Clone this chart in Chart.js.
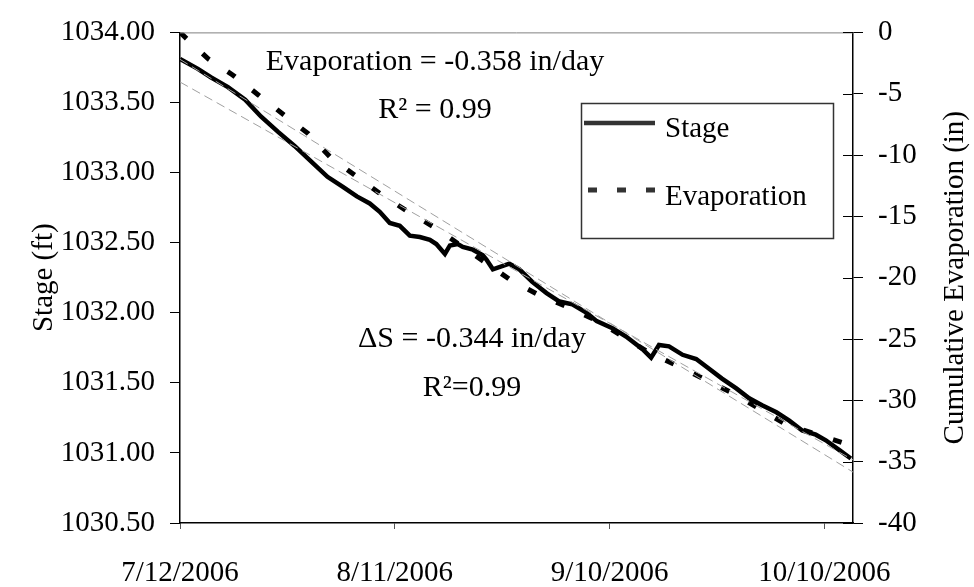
<!DOCTYPE html>
<html>
<head>
<meta charset="utf-8">
<script src="https://cdn.jsdelivr.net/npm/chart.js@4.4.1/dist/chart.umd.min.js"></script>
<style>
  html, body { margin: 0; padding: 0; background: #fff; }
</style>
</head>
<body>
<canvas id="myChart" width="974" height="587"></canvas>
<script>
// days counted from 7/12/2006
var stageDays = [0, 2.5, 4.3, 6.7, 9.1, 11.3, 13.7, 16.0, 18.3, 20.6, 22.7, 24.7, 26.5, 27.9, 29.3, 30.7, 32.1, 33.5, 34.9, 35.8,
    37.0, 37.7, 38.8, 39.5, 40.9, 42.3, 42.8, 43.7, 46.0, 47.4, 49.2, 51.2, 53.0, 54.8, 56.8, 58.2, 60.4, 62.3, 64.6, 65.8,
    66.9, 68.3, 70.2, 72.1, 73.9, 75.7, 77.7, 79.5, 81.3, 83.3, 85.1, 86.9, 88.8, 90.2, 92.1, 93.7];
var stageValues = [1033.81, 1033.74, 1033.68, 1033.61, 1033.52, 1033.40, 1033.29, 1033.19, 1033.08, 1032.97, 1032.90, 1032.83, 1032.78, 1032.72, 1032.64, 1032.62, 1032.55, 1032.54, 1032.52, 1032.49,
    1032.42, 1032.48, 1032.49, 1032.47, 1032.45, 1032.41, 1032.38, 1032.31, 1032.35, 1032.31, 1032.22, 1032.14, 1032.08, 1032.06, 1032.00, 1031.94, 1031.89, 1031.83, 1031.74, 1031.68,
    1031.77, 1031.76, 1031.70, 1031.67, 1031.60, 1031.53, 1031.46, 1031.39, 1031.34, 1031.29, 1031.23, 1031.16, 1031.13, 1031.09, 1031.02, 1030.96];

var evapDays = [0, 3.9, 7.4, 10.9, 14.4, 17.9, 21.1, 24.7, 28.2, 31.8, 35.7, 46.3, 50.2, 54.1, 58.2, 65.3, 69.6, 73.2, 77.3, 84.7, 93.6];
var evapValues = [0, -2.14, -3.49, -5.08, -6.67, -8.25, -10.24, -11.75, -13.25, -14.60, -15.95, -20.24, -21.43, -22.38, -23.49, -26.03, -27.22, -28.25, -29.44, -31.98, -33.65];

// linear trend lines (end points)
var trendDays = [0, 94];
var stageTrend = [1033.646, 1030.95];
var evapTrend = [-2.2, -35.85];

var FONT = "'Liberation Serif', 'Times New Roman', serif";

function toPoints(xs, ys) {
    return xs.map(function(x, i) { return { x: x, y: ys[i] }; });
}

function dayLabel(v) {
    var d = new Date(2006, 6, 12 + v);
    return (d.getMonth() + 1) + '/' + d.getDate() + '/' + d.getFullYear();
}

var extras = {
    id: 'extras',
    afterDraw: function(chart) {
        var ctx = chart.ctx;
        var a = chart.chartArea;
        var y1 = chart.scales.y1;
        ctx.save();

        // top border of plot area
        ctx.strokeStyle = '#808080';
        ctx.lineWidth = 1;
        ctx.beginPath();
        ctx.moveTo(a.left, a.top + 0.5);
        ctx.lineTo(a.right, a.top + 0.5);
        ctx.stroke();

        // right axis ticks cross the axis line
        ctx.strokeStyle = '#000';
        ctx.beginPath();
        y1.ticks.forEach(function(t) {
            var py = Math.round(y1.getPixelForValue(t.value)) + 0.5;
            ctx.moveTo(a.right - 10, py);
            ctx.lineTo(a.right, py);
        });
        ctx.stroke();

        ctx.fillStyle = '#000';
        ctx.textAlign = 'center';
        ctx.textBaseline = 'alphabetic';
        ctx.font = '30px ' + FONT;
        ctx.fillText('Evaporation = -0.358 in/day', 435, 70);
        ctx.fillText('R\u00B2 = 0.99', 435, 118);
        ctx.fillText('\u0394S = -0.344 in/day', 472, 347);
        ctx.fillText('R\u00B2=0.99', 472, 396);

        // legend
        ctx.strokeStyle = '#333';
        ctx.lineWidth = 1.5;
        ctx.strokeRect(581.5, 103.5, 252, 135);
        ctx.lineWidth = 4.5;
        ctx.beginPath();
        ctx.moveTo(584, 123);
        ctx.lineTo(655, 123);
        ctx.stroke();
        ctx.lineWidth = 5;
        ctx.setLineDash([9, 20]);
        ctx.beginPath();
        ctx.moveTo(588, 190);
        ctx.lineTo(655, 190);
        ctx.stroke();
        ctx.setLineDash([]);
        ctx.textAlign = 'left';
        ctx.font = '29px ' + FONT;
        ctx.fillText('Stage', 665, 137);
        ctx.fillText('Evaporation', 665, 205);

        // axis titles
        var midY = (a.top + a.bottom) / 2;
        ctx.font = '29px ' + FONT;
        ctx.textAlign = 'center';
        ctx.save();
        ctx.translate(52, midY);
        ctx.rotate(-Math.PI / 2);
        ctx.fillText('Stage (ft)', 0, 0);
        ctx.restore();
        ctx.save();
        ctx.translate(963, midY);
        ctx.rotate(-Math.PI / 2);
        ctx.fillText('Cumulative Evaporation (in)', 0, 0);
        ctx.restore();

        ctx.restore();
    }
};

var tickFont = { family: FONT, size: 29 };

var myChart = new Chart(document.getElementById('myChart').getContext('2d'), {
    type: 'line',
    data: {
        datasets: [{
            label: 'Stage trend',
            data: toPoints(trendDays, stageTrend),
            yAxisID: 'y',
            borderColor: '#a0a0a0',
            borderWidth: 1,
            borderDash: [9, 5],
            pointRadius: 0,
            order: 0
        }, {
            label: 'Evaporation trend',
            data: toPoints(trendDays, evapTrend),
            yAxisID: 'y1',
            borderColor: '#a0a0a0',
            borderWidth: 1,
            borderDash: [9, 5],
            pointRadius: 0,
            order: 1
        }, {
            label: 'Stage',
            data: toPoints(stageDays, stageValues),
            yAxisID: 'y',
            borderColor: '#000',
            borderWidth: 4.5,
            pointRadius: 0,
            order: 2
        }, {
            label: 'Evaporation',
            data: toPoints(evapDays, evapValues),
            yAxisID: 'y1',
            borderColor: '#000',
            borderWidth: 5,
            borderDash: [9, 22],
            pointRadius: 0,
            order: 3
        }]
    },
    options: {
        responsive: false,
        animation: false,
        layout: { padding: { top: 19, left: 0, right: 0, bottom: 0 } },
        plugins: {
            legend: { display: false },
            tooltip: { enabled: false }
        },
        scales: {
            x: {
                type: 'linear',
                min: 0,
                max: 94,
                border: { color: '#000', width: 1.5 },
                grid: { drawOnChartArea: false, tickLength: 6, color: '#555' },
                ticks: {
                    stepSize: 30,
                    includeBounds: false,
                    autoSkip: false,
                    maxRotation: 0,
                    padding: 27,
                    color: '#000',
                    font: tickFont,
                    callback: function(v) { return dayLabel(v); }
                },
                afterFit: function(s) { s.height = 64; }
            },
            y: {
                position: 'left',
                min: 1030.5,
                max: 1034,
                border: { color: '#000', width: 1.5 },
                grid: { drawOnChartArea: false, tickLength: 10, color: '#000' },
                ticks: {
                    stepSize: 0.5,
                    padding: 15,
                    color: '#000',
                    font: tickFont,
                    callback: function(v) { return v.toFixed(2); }
                },
                afterFit: function(s) { s.width = 180; }
            },
            y1: {
                position: 'right',
                min: -40,
                max: 0,
                border: { color: '#000', width: 1.5 },
                grid: { drawOnChartArea: false, tickLength: 10, color: '#000' },
                ticks: {
                    stepSize: 5,
                    padding: 15,
                    color: '#000',
                    font: tickFont
                },
                afterFit: function(s) { s.width = 121; }
            }
        }
    },
    plugins: [extras]
});
</script>
</body>
</html>
